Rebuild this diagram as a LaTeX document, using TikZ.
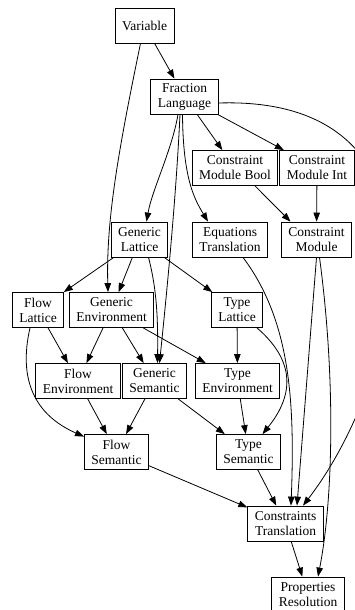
\documentclass[tikz,border=0pt]{standalone}
\usepackage{fontspec}
\setmainfont{Liberation Serif}
\usepackage{tikz}
\usetikzlibrary{arrows.meta}

\begin{document}
\begin{tikzpicture}
            [x=1pt,y=-1pt,line width=0.8pt,>={Triangle[length=9pt,width=6.5pt]},
             every node/.style={draw, rectangle, align=center, inner xsep=7pt, inner ysep=2pt, minimum height=35pt, font={\fontsize{13.5}{15}\selectfont}}]
          \useasboundingbox (0,0) rectangle (355,610);

          \node (n1) at (144.5,25.5) {Variable};
          \node (n2) at (184.5,96.5) {Fraction\\Language};
          \node (n3) at (235,168) {Constraint\\Module Bool};
          \node (n4) at (317,168) {Constraint\\Module Int};
          \node (n5) at (139.5,239.5) {Generic\\Lattice};
          \node (n6) at (230,239.5) {Equations\\Translation};
          \node (n7) at (316.5,239.5) {Constraint\\Module};
          \node (n8) at (38,310) {Flow\\Lattice};
          \node (n9) at (111.5,310) {Generic\\Environment};
          \node (n10) at (237,310) {Type\\Lattice};
          \node (n11) at (78,381) {Flow\\Environment};
          \node (n12) at (154.5,381) {Generic\\Semantic};
          \node (n13) at (237.5,381) {Type\\Environment};
          \node (n14) at (116.5,452) {Flow\\Semantic};
          \node (n15) at (248.5,452) {Type\\Semantic};
          \node (n16) at (285.5,523.5) {Constraints\\Translation};
          \node (n17) at (308,594.5) {Properties\\Resolution};

          \foreach \from/\to in {n1/n2, n2/n3, n2/n4, n4/n7, n5/n8, n5/n9, n5/n10, n8/n11, n9/n11, n9/n12, n9/n13, n10/n13, n11/n14, n12/n14, n12/n15, n13/n15, n14/n16, n15/n16, n16/n17}
            \draw (\from) edge[->] (\to);

          % curved edges
          \draw[->] ([xshift=-4pt]n1.south) .. controls (118.5,150) and (106,220) .. ([xshift=-3.5pt]n9.north);
          \draw[->] ([yshift=-6.5pt]n2.east) .. controls (470,95) and (400,380) .. ([xshift=17.5pt]n16.north);
          \draw[->] ([xshift=-6.5pt]n2.south) .. controls (172,150) and (152,190) .. ([xshift=7pt]n5.north);
          \draw[->] ([xshift=-4.5pt]n2.south) .. controls (176,200) and (166,300) .. ([xshift=5pt]n12.north);
          \draw[->] ([xshift=-2pt]n2.south) .. controls (183,180) and (195,200) .. ([xshift=-22pt]n6.north);
          \draw[->] ([xshift=20pt]n3.south) -- ([xshift=-26pt]n7.north);
          \draw[->] ([xshift=9pt]n5.south) .. controls (157,290) and (158,320) .. ([xshift=3pt]n12.north);
          \draw[->] ([xshift=13pt]n6.south) .. controls (290,320) and (295,400) .. ([xshift=5.5pt]n16.north);
          \draw[->] (n7.south) -- ([xshift=11.5pt]n16.north);
          \draw[->] ([xshift=3pt]n7.south) .. controls (336,380) and (333,500) .. ([xshift=10pt]n17.north);
          \draw[->] ([xshift=-8pt]n8.south) .. controls (18,380) and (35,415) .. ([yshift=-2.5pt]n14.north west);
          \draw[->] ([xshift=20pt]n10.south) .. controls (300,365) and (290,400) .. ([xshift=14pt]n15.north);
        \end{tikzpicture}
\end{document}
